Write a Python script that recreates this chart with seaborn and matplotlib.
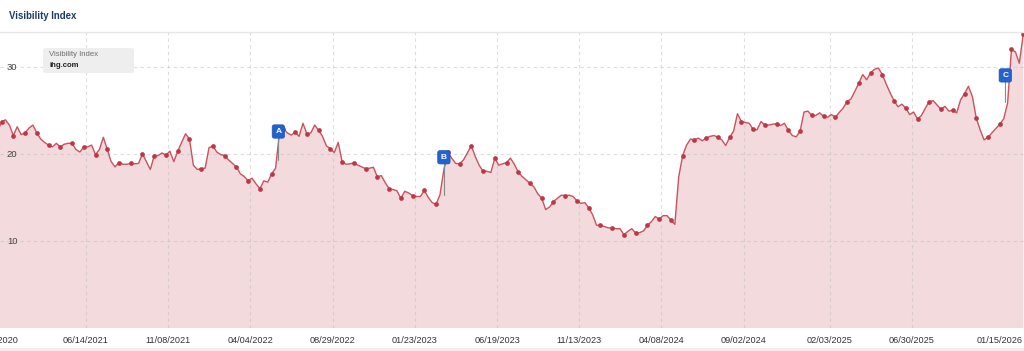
import numpy as np
import pandas as pd
import matplotlib
matplotlib.use("Agg")
import matplotlib.pyplot as plt
import matplotlib.dates as mdates
import matplotlib.transforms as mtrans
from matplotlib.patches import FancyBboxPatch, Rectangle
import seaborn as sns

# ---------------- data ----------------
values = [
    22.6,
    23.7, 23.9, 23.3, 22.1, 23.1, 22.2, 22.4, 22.95, 23.3, 22.4,
    21.7, 21.3, 21.0, 20.8, 21.2, 20.8, 21.1, 21.2, 21.2, 20.5,
    20.2, 20.8, 20.8, 21.0, 19.9, 20.5, 21.9, 20.5, 19.1, 18.5,
    19.0, 18.8, 18.8, 18.9, 18.85, 18.9, 20.0, 19.1, 18.2, 19.8,
    19.8, 20.1, 19.85, 20.3, 19.1, 20.3, 21.3, 22.3, 21.7, 18.7,
    18.2, 18.3, 18.35, 20.7, 20.9, 20.2, 19.9, 19.8, 19.3, 18.9,
    18.5, 17.7, 17.4, 16.9, 17.2, 16.55, 16.0, 16.9, 16.75, 17.7,
    18.35, 22.4, 22.9, 22.4, 22.15, 22.5, 22.0, 23.5, 22.3, 22.4,
    23.3, 22.7, 22.0, 20.9, 20.6, 20.15, 21.3, 19.1, 18.8, 18.85,
    18.95, 18.7, 18.5, 18.3, 18.35, 18.45, 17.35, 17.5, 16.7, 16.0,
    15.9, 15.75, 14.9, 15.7, 15.5, 15.2, 15.1, 15.1, 15.8, 15.0,
    14.4, 14.2, 15.3, 18.2, 20.15, 19.5, 18.9, 18.85, 19.3, 20.1,
    20.95, 19.7, 18.7, 18.0, 18.0, 17.85, 19.5, 18.7, 18.85, 19.0,
    19.5, 18.8, 17.9, 17.4, 17.0, 16.6, 16.2, 15.4, 14.9, 13.6,
    13.9, 14.5, 14.9, 15.25, 15.2, 15.25, 15.1, 14.6, 14.3, 14.4,
    13.8, 13.0, 11.8, 11.8, 11.65, 11.5, 11.5, 11.4, 11.4, 10.7,
    11.1, 11.4, 10.9, 10.95, 11.15, 11.8, 12.2, 12.8, 12.5, 12.9,
    12.9, 12.4, 11.9, 17.4, 19.8, 21.0, 21.7, 21.6, 21.8, 21.5,
    21.8, 22.0, 22.1, 21.9, 21.6, 20.95, 21.9, 22.6, 24.6, 23.7,
    23.6, 23.5, 22.8, 22.75, 23.7, 23.3, 23.3, 23.4, 23.45, 23.25,
    23.5, 22.7, 22.1, 21.95, 22.6, 24.8, 24.9, 24.4, 24.4, 24.7,
    24.3, 24.2, 24.5, 24.2, 24.75, 25.25, 26.0, 26.3, 27.2, 28.1,
    29.1, 28.5, 29.3, 29.7, 29.85, 29.1, 28.0, 27.0, 26.1, 25.4,
    25.7, 25.25, 24.5, 24.8, 24.0, 24.4, 25.25, 26.0, 26.1, 25.6,
    25.1, 25.45, 24.9, 25.0, 24.7, 26.2, 26.9, 27.75, 26.6, 24.1,
    22.75, 21.6, 21.9, 22.4, 22.9, 23.4, 24.0, 25.8, 32.0, 31.7,
    30.4, 33.7,
]
last_date = "2026-01-15"
dates = pd.date_range(end=last_date, periods=len(values), freq="7D")

tick_dates = ["2021-06-14", "2021-11-08", "2022-04-04", "2022-08-29", "2023-01-23",
              "2023-06-19", "2023-11-13", "2024-04-08", "2024-09-02", "2025-02-03",
              "2025-06-30"]
tick_labels = ["06/14/2021", "11/08/2021", "04/04/2022", "08/29/2022", "01/23/2023",
               "06/19/2023", "11/13/2023", "04/08/2024", "09/02/2024", "02/03/2025",
               "06/30/2025"]
first_label_date = "2021-01-03"
first_label = "12/28/2020"
last_label = "01/15/2026"

y_ticks = [10, 20, 30]
y_labels = ["10", "20", "30"]

event_labels = ["A", "B", "C"]
event_dates = ["2022-05-24", "2023-03-16", "2025-12-14"]
event_levels = [22.56, 19.6, 29.0]
event_bottoms = [19.3, 15.3, 26.0]

title = "Visibility Index"
legend_title = "Visibility Index"
legend_domain = "ihg.com"

df = pd.DataFrame({"date": dates, "value": values})

# ---------------- style ----------------
sns.set_theme(style="white")
plt.rcParams["font.family"] = ["Liberation Sans", "DejaVu Sans"]

W, H = 1024, 351
fig = plt.figure(figsize=(W / 100, H / 100), dpi=100)
ax_top, ax_bot = 32, 328
ax = fig.add_axes([0, (H - ax_bot) / H, 1, (ax_bot - ax_top) / H])
ax.set_axisbelow(False)

line_c = "#c9535f"
mark_c = "#bb3847"
fill_c = "#f2dadd"

# x scale: 0.5592 px/day, 06/14/2021 at px 86
px_per_day = 0.5592
ref = mdates.date2num(pd.Timestamp("2021-06-14"))
x0 = ref - 86 / px_per_day
x1 = ref + (W - 86) / px_per_day
ax.set_xlim(x0, x1)
ax.set_ylim(0, (ax_bot - ax_top) / 8.71)

ax.fill_between(df["date"], df["value"], 0, color=fill_c, lw=0, zorder=1)

# gridlines (semi-transparent grey so they show faintly over the fill)
for d in tick_dates:
    ax.axvline(mdates.date2num(pd.Timestamp(d)), color="#bdbdbd", alpha=0.5,
               lw=0.8, ls=(0, (3, 3)), zorder=1.5)
for yv in y_ticks:
    ax.axhline(yv, color="#bdbdbd", alpha=0.5, lw=0.8, ls=(0, (3, 3)), zorder=1.5)

sns.lineplot(data=df, x="date", y="value", ax=ax, color=line_c, lw=1.0,
             marker="o", markersize=3.4, markeredgewidth=0,
             markerfacecolor=mark_c, markevery=slice(1, None, 3), zorder=3)

# event flags
for lab, d, lev, bot in zip(event_labels, event_dates, event_levels, event_bottoms):
    xd = mdates.date2num(pd.Timestamp(d))
    ax.plot([xd, xd], [bot, lev], color="#8a8a8a", lw=0.8, zorder=4)
    ax.text(xd, lev, lab, ha="center", va="center", color="white",
            fontsize=6.0, fontweight="bold", zorder=6,
            bbox=dict(boxstyle="round,pad=0.38,rounding_size=0.25",
                      fc="#2363cf", ec="#1b55b5", lw=0.5))

# axes cosmetics
for s in ax.spines.values():
    s.set_visible(False)
ax.set_xlabel("")
ax.set_ylabel("")
ax.set_xticks([mdates.date2num(pd.Timestamp(d)) for d in tick_dates])
ax.set_xticklabels(tick_labels)
ax.tick_params(axis="x", length=0, pad=6, labelsize=6.6, labelcolor="#333333")
ax.set_yticks(y_ticks)
ax.set_yticklabels(y_labels)
ax.tick_params(axis="y", length=0, pad=-5, labelsize=6.8, labelcolor="#444444")
for t in ax.get_yticklabels():
    t.set_horizontalalignment("left")
ax.grid(False)

# first (clipped by the figure edge) and last x labels
xt = ax.get_xaxis_transform() + mtrans.ScaledTranslation(0, -6 / 72, fig.dpi_scale_trans)
ax.text(mdates.date2num(pd.Timestamp(first_label_date)), 0, first_label,
        transform=xt, ha="center", va="top", fontsize=6.6, color="#333333",
        clip_on=False)
ax.annotate(last_label, xy=(1, 0), xycoords="axes fraction",
            xytext=(-1, -6), textcoords="offset points", ha="right", va="top",
            fontsize=6.6, color="#333333", annotation_clip=False)

# header
fig.text(9 / W, 1 - 16 / H, title, ha="left", va="center", fontsize=6.9,
         fontweight="bold", color="#1d3a6b")
fig.add_artist(plt.Line2D([0, 1], [1 - 31.5 / H] * 2, color="#e6e6e6", lw=1,
                          transform=fig.transFigure))
fig.add_artist(Rectangle((0, 0), 1, 3 / H, transform=fig.transFigure,
                         fc="#eeeeee", ec="none"))

# legend box
lx0, ly0, lx1, ly1 = 43, 48, 134, 73
fig.add_artist(FancyBboxPatch((lx0 / W, 1 - ly1 / H), (lx1 - lx0) / W, (ly1 - ly0) / H,
                              boxstyle="round,pad=0,rounding_size=0.004",
                              transform=fig.transFigure, fc="#eeeeee", ec="none",
                              zorder=10))
fig.text(49 / W, 1 - 55 / H, legend_title, ha="left", va="center", fontsize=5.6,
         color="#6e6e6e", zorder=11)
fig.text(49 / W, 1 - 65.5 / H, legend_domain, ha="left", va="center", fontsize=5.6,
         fontweight="bold", color="#222222", zorder=11)

fig.savefig("out.png", dpi=100)
